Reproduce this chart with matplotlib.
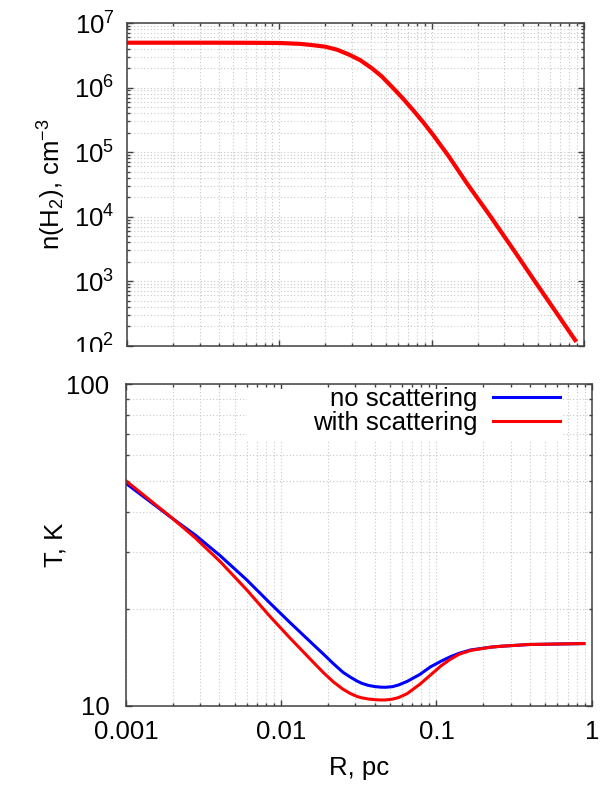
import numpy as np
import matplotlib
matplotlib.use("Agg")
import matplotlib.pyplot as plt
from matplotlib.ticker import LogLocator, NullFormatter, FuncFormatter, LogFormatterMathtext
from matplotlib.patches import Rectangle

plt.rcParams['font.family'] = ['Liberation Sans', 'DejaVu Sans']
plt.rcParams['mathtext.fontset'] = 'custom'
plt.rcParams['mathtext.rm'] = 'Liberation Sans'
plt.rcParams['mathtext.it'] = 'Liberation Sans:italic'
plt.rcParams['mathtext.default'] = 'rm'
plt.rcParams['font.size'] = 18.5

# H2 number density profile
r_dens = [0.001, 0.002, 0.004, 0.007, 0.01, 0.0137, 0.0165, 0.02, 0.024, 0.0291,
          0.034, 0.0405, 0.047, 0.0561, 0.065, 0.0759, 0.088, 0.1026, 0.129,
          0.17, 0.243, 0.35, 0.475, 0.65, 0.875]
n_h2 = [4.95e6, 4.95e6, 4.95e6, 4.93e6, 4.9e6, 4.75e6, 4.54e6, 4.3e6, 3.85e6, 3.19e6,
        2.65e6, 1.99e6, 1.49e6, 9.7e5, 6.7e5, 4.4e5, 2.9e5, 1.82e5, 8.7e4,
        3.3e4, 1.01e4, 2.9e3, 1.0e3, 340, 122]

# dust temperature, without and with scattering
r_temp = [0.001, 0.00192, 0.0028, 0.00403, 0.006, 0.0085, 0.01143, 0.0154, 0.01875,
          0.0217, 0.025, 0.028, 0.0308, 0.033, 0.0365, 0.040, 0.0435, 0.047,
          0.052, 0.057, 0.0647, 0.078, 0.0914, 0.107, 0.123, 0.14, 0.1656,
          0.223, 0.259, 0.4, 0.6, 0.89]
t_no_scat = [49.1, 38.7, 33.9, 29.3, 24.6, 20.8, 18.1, 15.8, 14.45,
             13.5, 12.7, 12.25, 11.93, 11.74, 11.56, 11.47, 11.42, 11.41,
             11.46, 11.6, 11.9, 12.5, 13.2, 13.75, 14.2, 14.55, 14.9,
             15.2, 15.3, 15.5, 15.55, 15.6]
t_with_scat = [50.0, 38.8, 33.2, 28.1, 22.9, 18.9, 16.2, 13.95, 12.65,
               11.85, 11.25, 10.9, 10.68, 10.58, 10.49, 10.44, 10.42, 10.42,
               10.48, 10.6, 10.9, 11.65, 12.45, 13.3, 13.95, 14.45, 14.85,
               15.2, 15.3, 15.5, 15.55, 15.6]

frame_col = '#404040'
grid_kw = dict(color='#c8c8c8', linestyle=(0, (1, 2)), linewidth=0.8)

fig = plt.figure(figsize=(6.03, 7.85), dpi=100)
ax1 = fig.add_axes([127 / 603, (785 - 345.7) / 785, 457 / 603, 322.7 / 785])
ax2 = fig.add_axes([126 / 603, (785 - 705.7) / 785, 465.7 / 603, 321.7 / 785])

for ax in (ax1, ax2):
    ax.set_xscale('log')
    ax.set_yscale('log')
    ax.set_xlim(0.001, 1)
    ax.set_axisbelow(True)
    ax.xaxis.set_major_locator(LogLocator(base=10, numticks=10))
    ax.xaxis.set_minor_locator(LogLocator(base=10, subs=np.arange(2, 10), numticks=20))
    ax.yaxis.set_minor_locator(LogLocator(base=10, subs=np.arange(2, 10), numticks=20))
    ax.xaxis.set_minor_formatter(NullFormatter())
    ax.yaxis.set_minor_formatter(NullFormatter())
    ax.grid(which='both', **grid_kw)
    ax.tick_params(which='both', direction='in', top=True, right=True,
                   color=frame_col, width=1.0)
    ax.tick_params(which='major', length=4.5)
    ax.tick_params(which='minor', length=2.5)
    for s in ax.spines.values():
        s.set_color(frame_col)
        s.set_linewidth(1.1)

# upper panel: density
ax1.plot(r_dens, n_h2, color='#ff0000', lw=3.0, solid_joinstyle='round')
ax1.set_ylim(1e2, 1e7)
ax1.yaxis.set_major_locator(LogLocator(base=10, numticks=10))
ax1.yaxis.set_major_formatter(LogFormatterMathtext())
ax1.xaxis.set_major_formatter(NullFormatter())
ax1.tick_params(axis='y', which='major', pad=9)
ax1.set_ylabel(r'n(H$_2$), cm$^{-3}$')
ax1.yaxis.set_label_coords(-0.13, 0.5)

# lower panel: temperature
ax2.plot(r_temp, t_no_scat, color='#0000ff', lw=2.2, solid_joinstyle='round',
         label='no scattering')
ax2.plot(r_temp, t_with_scat, color='#ff0000', lw=2.2, solid_joinstyle='round',
         label='with scattering')
ax2.set_ylim(10, 100)
ax2.yaxis.set_major_locator(LogLocator(base=10, numticks=10))
fmt = FuncFormatter(lambda v, _: f'{v:g}')
ax2.xaxis.set_major_formatter(fmt)
ax2.yaxis.set_major_formatter(fmt)
ax2.tick_params(axis='y', which='major', pad=12)
ax2.tick_params(axis='x', which='major', pad=10)
ax2.set_ylabel('T, K')
ax2.yaxis.set_label_coords(-0.125, 0.5)
ax2.set_xlabel('R, pc')
ax2.xaxis.set_label_coords(0.5, -0.155)

# opaque key area over the grid
ax2.add_patch(Rectangle((0.26, 0.82), 0.676, 0.165, transform=ax2.transAxes,
                        facecolor='white', edgecolor='none', zorder=1))
ax2.legend(loc='upper right', bbox_to_anchor=(0.932, 0.99), frameon=False,
           markerfirst=False, borderpad=0, borderaxespad=0, labelspacing=0,
           handlelength=2.6, handletextpad=0.62, fontsize=18.5)

# lower plot area blanks the bottom of the upper tick labels
fig.add_artist(Rectangle((0, (785 - 372) / 785), 127 / 603, 20 / 785,
                         transform=fig.transFigure, facecolor='white',
                         edgecolor='none', zorder=5))

fig.savefig('out.png', dpi=100)
